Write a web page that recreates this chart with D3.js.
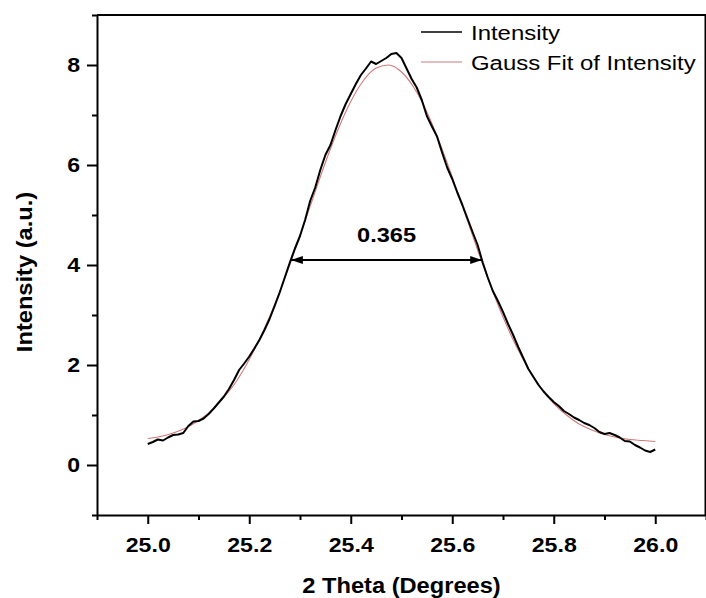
<!DOCTYPE html>
<html>
<head>
<meta charset="utf-8">
<script src="https://cdn.jsdelivr.net/npm/d3@7"></script>
<style>
  html, body { margin: 0; padding: 0; background: #ffffff; }
  svg { display: block; }
  text { font-family: "Liberation Sans", Arial, Helvetica, sans-serif; }
</style>
</head>
<body>
<svg id="chart" width="706" height="598"></svg>
<script>
// ---- data ----
const theta = [
  25.00,25.01,25.02,25.03,25.04,25.05,25.06,25.07,25.08,25.09,
  25.10,25.11,25.12,25.13,25.14,25.15,25.16,25.17,25.18,25.19,
  25.20,25.21,25.22,25.23,25.24,25.25,25.26,25.27,25.28,25.29,
  25.30,25.31,25.32,25.33,25.34,25.35,25.36,25.37,25.38,25.39,
  25.40,25.41,25.42,25.43,25.44,25.45,25.46,25.47,25.48,25.49,
  25.50,25.51,25.52,25.53,25.54,25.55,25.56,25.57,25.58,25.59,
  25.60,25.61,25.62,25.63,25.64,25.65,25.66,25.67,25.68,25.69,
  25.70,25.71,25.72,25.73,25.74,25.75,25.76,25.77,25.78,25.79,
  25.80,25.81,25.82,25.83,25.84,25.85,25.86,25.87,25.88,25.89,
  25.90,25.91,25.92,25.93,25.94,25.95,25.96,25.97,25.98,25.99,
  26.00
];
const intensity = [
  0.42,0.46,0.51,0.49,0.55,0.60,0.61,0.64,0.78,0.87,
  0.88,0.93,1.02,1.13,1.25,1.37,1.52,1.70,1.90,2.03,
  2.17,2.33,2.50,2.70,2.92,3.18,3.45,3.75,4.05,4.33,
  4.58,4.90,5.28,5.55,5.90,6.20,6.40,6.70,6.98,7.22,
  7.42,7.62,7.80,7.93,8.07,8.02,8.08,8.14,8.22,8.24,
  8.14,7.93,7.72,7.55,7.30,6.98,6.77,6.57,6.25,5.95,
  5.72,5.45,5.20,4.93,4.66,4.40,4.05,3.75,3.48,3.28,
  3.06,2.82,2.60,2.36,2.14,1.92,1.76,1.60,1.47,1.36,
  1.26,1.18,1.08,1.02,0.95,0.90,0.84,0.80,0.74,0.66,
  0.62,0.64,0.60,0.55,0.48,0.47,0.40,0.35,0.29,0.26,
  0.31
];
const fitTheta = [
  25.000,25.025,25.050,25.075,25.100,25.125,25.150,25.175,25.200,25.225,
  25.250,25.275,25.300,25.325,25.350,25.375,25.400,25.425,25.450,25.475,
  25.500,25.525,25.550,25.575,25.600,25.625,25.650,25.675,25.700,25.725,
  25.750,25.775,25.800,25.825,25.850,25.875,25.900,25.925,25.950,25.975,
  26.000
];
const fitIntensity = [
  0.53,0.57,0.64,0.74,0.89,1.08,1.35,1.68,2.11,2.62,
  3.21,3.87,4.59,5.32,6.05,6.71,7.27,7.69,7.94,8.00,
  7.86,7.54,7.06,6.45,5.76,5.03,4.30,3.60,2.96,2.40,
  1.93,1.54,1.23,1.00,0.82,0.70,0.61,0.55,0.51,0.49,
  0.47
];
const xMajorTicks = [25.0,25.2,25.4,25.6,25.8,26.0];
const xMinorTicks = [24.9,25.1,25.3,25.5,25.7,25.9,26.1];
const yMajorTicks = [0,2,4,6,8];
const yMinorTicks = [-1,1,3,5,7,9];
const seriesNames = ["Intensity","Gauss Fit of Intensity"];
const fwhmEnds = [25.282, 25.659];
const fwhmLevel = 4.1;
const fwhmLabel = "0.365";
const xTitle = "2 Theta (Degrees)";
const yTitle = "Intensity (a.u.)";

// ---- layout ----
const svg = d3.select("#chart");
const L = 97, R = 706, T = 15, B = 515;
const x = d3.scaleLinear().domain([24.9, 26.1]).range([L, R]);
const y = d3.scaleLinear().domain([-1, 9]).range([B, T]);
const SX = 1.1;

svg.append("rect").attr("width",706).attr("height",598).attr("fill","#ffffff");

// frame top & right
svg.append("line").attr("x1",L).attr("x2",R).attr("y1",T).attr("y2",T)
  .attr("stroke","#000").attr("stroke-width",2);
svg.append("line").attr("x1",R-0.5).attr("x2",R-0.5).attr("y1",T).attr("y2",B)
  .attr("stroke","#000").attr("stroke-width",2);

// minor ticks
const gxMinor = svg.append("g").attr("transform",`translate(0,${B})`)
  .call(d3.axisBottom(x).tickValues(xMinorTicks).tickSize(5).tickFormat(""));
const gyMinor = svg.append("g").attr("transform",`translate(${L},0)`)
  .call(d3.axisLeft(y).tickValues(yMinorTicks).tickSize(5).tickFormat(""));
[gxMinor, gyMinor].forEach(g => {
  g.select(".domain").remove();
  g.selectAll("line").attr("stroke","#000").attr("stroke-width",2);
});

// major axes
const gx = svg.append("g").attr("transform",`translate(0,${B})`)
  .call(d3.axisBottom(x).tickValues(xMajorTicks).tickSize(9).tickPadding(13)
    .tickSizeOuter(0).tickFormat(d3.format(".1f")));
const gy = svg.append("g").attr("transform",`translate(${L},0)`)
  .call(d3.axisLeft(y).tickValues(yMajorTicks).tickSize(10).tickPadding(7)
    .tickSizeOuter(0).tickFormat(d3.format("d")));
[gx, gy].forEach(g => {
  g.select(".domain").attr("stroke","#000").attr("stroke-width",2);
  g.selectAll("line").attr("stroke","#000").attr("stroke-width",2);
  g.selectAll("text").attr("fill","#000")
    .style("font-size","21px").style("font-weight","bold")
    .style("font-family",'"Liberation Sans", Arial, sans-serif');
});
gx.selectAll("text").attr("transform",`scale(${SX},1)`);
gy.selectAll("text").attr("x",-17/SX).attr("transform",`scale(${SX},1)`);

// axis titles
svg.append("text")
  .attr("transform",`translate(${(L+R)/2},593) scale(${SX},1)`)
  .attr("text-anchor","middle").style("font-size","21.5px").style("font-weight","bold")
  .text(xTitle);
svg.append("text")
  .attr("transform",`translate(32,272) rotate(-90) scale(${SX},1)`)
  .attr("text-anchor","middle").style("font-size","21.5px").style("font-weight","bold")
  .text(yTitle);

// series
const dataPts = theta.map((t,i)=>[t, intensity[i]]);
const fitPts = fitTheta.map((t,i)=>[t, fitIntensity[i]]);
svg.append("path").datum(fitPts)
  .attr("d", d3.line().x(d=>x(d[0])).y(d=>y(d[1])).curve(d3.curveMonotoneX))
  .attr("fill","none").attr("stroke","#cf7a7a").attr("stroke-width",1.1);
svg.append("path").datum(dataPts)
  .attr("d", d3.line().x(d=>x(d[0])).y(d=>y(d[1])))
  .attr("fill","none").attr("stroke","#000").attr("stroke-width",2)
  .attr("stroke-linejoin","round");

// FWHM arrow
const defs = svg.append("defs");
defs.append("marker").attr("id","ah").attr("viewBox","0 0 12 8")
  .attr("refX",12).attr("refY",4).attr("markerWidth",12).attr("markerHeight",8)
  .attr("markerUnits","userSpaceOnUse").attr("orient","auto-start-reverse")
  .append("path").attr("d","M0,0 L12,4 L0,8 Z").attr("fill","#000");
svg.append("line")
  .attr("x1",x(fwhmEnds[0])).attr("x2",x(fwhmEnds[1]))
  .attr("y1",y(fwhmLevel)).attr("y2",y(fwhmLevel))
  .attr("stroke","#000").attr("stroke-width",2)
  .attr("marker-start","url(#ah)").attr("marker-end","url(#ah)");
svg.append("text")
  .attr("transform",`translate(${(x(fwhmEnds[0])+x(fwhmEnds[1]))/2},242) scale(1.18,1)`)
  .attr("text-anchor","middle").style("font-size","20px").style("font-weight","bold")
  .text(fwhmLabel);

// legend
const lg = svg.append("g");
const legColors = ["#000","#cf7a7a"];
const legWidths = [1.6, 1.1];
seriesNames.forEach((n,i) => {
  const ly = 32 + i*30;
  lg.append("line").attr("x1",421).attr("x2",462).attr("y1",ly).attr("y2",ly)
    .attr("stroke",legColors[i]).attr("stroke-width",legWidths[i]);
  lg.append("text").attr("transform",`translate(471,${ly+7.5}) scale(1.14,1)`)
    .style("font-size","21px").text(n);
});
</script>
</body>
</html>
